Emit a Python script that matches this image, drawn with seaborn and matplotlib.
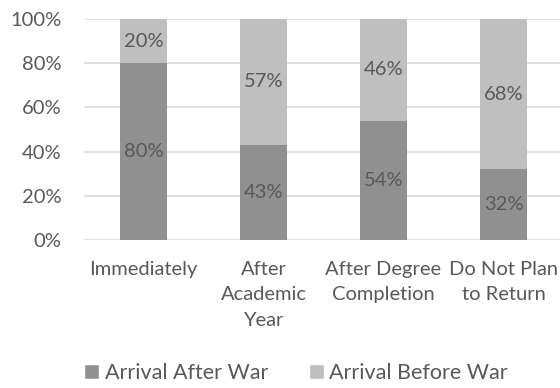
import matplotlib
matplotlib.use("Agg")
import matplotlib.pyplot as plt
from matplotlib.patches import Patch
from matplotlib.ticker import PercentFormatter
import seaborn as sns
import pandas as pd

categories = ["Immediately", "After\nAcademic\nYear", "After Degree\nCompletion", "Do Not Plan\nto Return"]
after_war = [80, 43, 54, 32]
before_war = [20, 57, 46, 68]
series_names = ["Arrival After War", "Arrival Before War"]
y_ticks = [0, 20, 40, 60, 80, 100]

dark = "#909090"
light = "#bfbfbf"
text_c = "#595959"

sns.set_theme(style="white")
plt.rcParams["font.family"] = ["Lato", "DejaVu Sans"]

df = pd.DataFrame({
    "category": categories,
    "after": after_war,
    "before": before_war,
})
df["total"] = df["after"] + df["before"]

fig = plt.figure(figsize=(5.6, 3.88), dpi=100)
ax = fig.add_axes([83.5 / 560, 1 - 240 / 388, 480 / 560, 221 / 388])

# light segment drawn full height, dark segment drawn over it from zero
sns.barplot(data=df, x="category", y="total", color=light, width=0.39,
            saturation=1, linewidth=0, ax=ax, zorder=2)
sns.barplot(data=df, x="category", y="after", color=dark, width=0.39,
            saturation=1, linewidth=0, ax=ax, zorder=3)

fs = 14.5
for i, (a, b) in enumerate(zip(after_war, before_war)):
    ax.text(i, a / 2, f"{a}%", ha="center", va="center", fontsize=fs, color=text_c, zorder=4)
    ax.text(i, a + b / 2, f"{b}%", ha="center", va="center", fontsize=fs, color=text_c, zorder=4)

ax.set_ylim(0, 100)
ax.set_xlim(-0.5, 3.5)
ax.set_yticks(y_ticks)
ax.yaxis.set_major_formatter(PercentFormatter(decimals=0))
ax.grid(axis="y", color="#d9d9d9", linewidth=1.2, zorder=0)
ax.set_axisbelow(True)
for s in ax.spines.values():
    s.set_visible(False)
ax.set_xlabel("")
ax.set_ylabel("")
ax.tick_params(axis="y", length=0, pad=16, labelsize=fs, labelcolor=text_c)
ax.tick_params(axis="x", length=0, pad=15, labelsize=fs, labelcolor=text_c)
ax.set_xticks(range(len(categories)))
ax.set_xticklabels(categories, linespacing=1.6, va="top")

handles = [Patch(facecolor=dark, label=series_names[0]),
           Patch(facecolor=light, label=series_names[1])]
fig.legend(handles=handles, loc="center", bbox_to_anchor=(296 / 560, 1 - 373 / 388),
           ncol=2, frameon=False, fontsize=15.5, labelcolor=text_c,
           handlelength=0.7, handleheight=0.7, handletextpad=0.25, columnspacing=1.9,
           borderpad=0.1)

fig.savefig("out.png", dpi=100)
